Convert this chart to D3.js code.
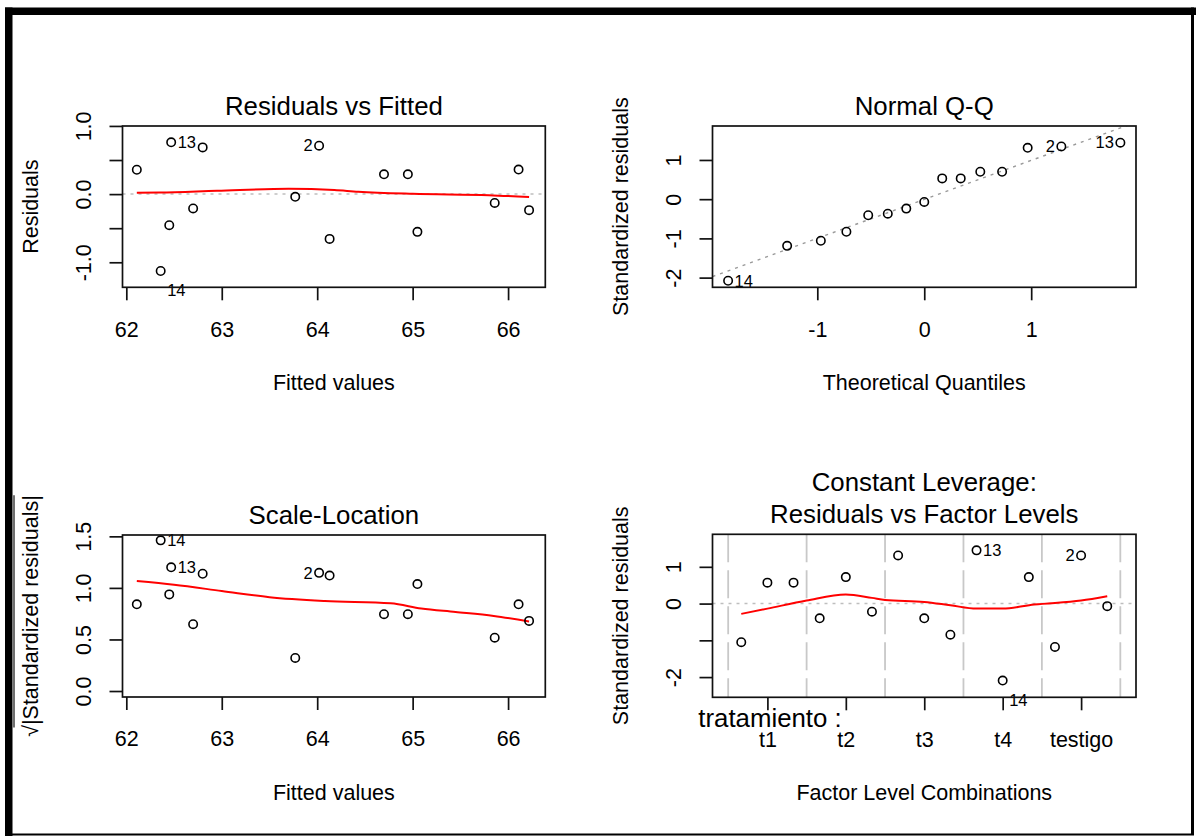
<!DOCTYPE html>
<html>
<head>
<meta charset="utf-8">
<script src="https://cdn.jsdelivr.net/npm/d3@7"></script>
<style>
  body { margin: 0; background: #fff; }
  svg { display: block; }
  text { font-family: "Liberation Sans", Arial, sans-serif; fill: #000; }
</style>
</head>
<body>
<svg id="chart" width="1196" height="836"></svg>
<script>
// ---- data ----
// Residuals vs Fitted / Scale-Location (same fitted values)
const fitted = [62.11, 62.47, 62.80, 62.36, 62.45, 62.70, 63.77, 64.02, 64.13, 64.70, 64.95, 65.05, 65.86, 66.11, 66.22];
const residuals = [0.357, 0.76, 0.685, -1.128, -0.456, -0.21, -0.04, 0.71, -0.657, 0.29, 0.29, -0.554, -0.13, 0.36, -0.235];
const sqrtStdRes = [0.841, 1.20, 1.137, 1.461, 0.937, 0.648, 0.321, 1.146, 1.12, 0.745, 0.745, 1.037, 0.517, 0.841, 0.68];
const idIndex = [1, 3, 7];
const idText = ['13', '14', '2'];
const idSide = ['right', 'right', 'left'];

const residSmoothX = [62.11, 62.35, 62.95, 63.7, 64.18, 64.43, 65.0, 65.8, 66.22];
const residSmoothY = [0.02, 0.024, 0.049, 0.078, 0.059, 0.034, 0.004, -0.015, -0.044];
const scaleSmoothX = [62.11, 62.5, 63.0, 63.5, 64.08, 64.77, 65.09, 65.45, 65.85, 66.22];
const scaleSmoothY = [1.066, 1.03, 0.97, 0.91, 0.873, 0.851, 0.80, 0.767, 0.728, 0.674];

// Normal Q-Q
const theoQ = [-1.834, -1.282, -0.967, -0.728, -0.524, -0.341, -0.168, 0, 0.168, 0.341, 0.524, 0.728, 0.967, 1.282, 1.834];
const stdResSorted = [-2.08, -1.19, -1.06, -0.83, -0.41, -0.37, -0.24, -0.07, 0.53, 0.53, 0.70, 0.70, 1.31, 1.345, 1.44];
const qqIdIndex = [0, 13, 14];
const qqIdText = ['14', '2', '13'];
const qqIdSide = ['right', 'left', 'left'];
const qqLine = { intercept: -0.005, slope: 0.994 };

// Constant leverage: residuals vs factor levels
const levels = ['t1', 't2', 't3', 't4', 'testigo'];
const levelTicks = [1, 4, 7, 10, 13];
const levelBounds = [-0.5, 2.5, 5.5, 8.5, 11.5, 14.5];
const obsPos = [0, 1, 2, 3, 4, 5, 6, 7, 8, 9, 10, 11, 12, 13, 14];
const levelStdRes = [-1.05, 0.57, 0.57, -0.40, 0.72, -0.22, 1.31, -0.40, -0.847, 1.448, -2.095, 0.72, -1.18, 1.31, -0.07];
const lvIdIndex = [9, 10, 13];
const lvIdText = ['13', '14', '2'];
const lvIdSide = ['right', 'right', 'left'];
const lvSmoothX = [0, 1, 2.5, 4, 5, 5.5, 7, 8, 9, 10, 11.2, 13, 14];
const lvSmoothY = [-0.28, -0.137, 0.082, 0.246, 0.155, 0.10, 0.046, -0.046, -0.137, -0.137, -0.027, 0.082, 0.2];

// ---- drawing ----
const svg = d3.select('#chart');
svg.append('rect').attr('width', 1196).attr('height', 836).attr('fill', '#fff');

const FONT = 21.5;
const INK = '#111';

function makePanel(p) {
  const x = d3.scaleLinear().domain(p.xDomain).range([p.left, p.right]);
  const y = d3.scaleLinear().domain(p.yDomain).range([p.bottom, p.top]);
  const g = svg.append('g');

  const xAxis = g.append('g')
    .attr('transform', `translate(0,${p.bottom})`)
    .call(d3.axisBottom(x).tickValues(p.xTicks).tickFormat((d, i) => p.xLabels[i]).tickSize(13).tickSizeOuter(0));
  xAxis.select('.domain').remove();
  xAxis.selectAll('line').attr('stroke', INK).attr('stroke-width', 1.7);
  xAxis.selectAll('text').attr('y', 49.4).attr('dy', null).style('font-size', FONT + 'px');

  const yAxis = g.append('g')
    .attr('transform', `translate(${p.left},0)`)
    .call(d3.axisLeft(y).tickValues(p.yTicks).tickFormat((d, i) => p.yLabels[i]).tickSize(13).tickSizeOuter(0));
  yAxis.select('.domain').remove();
  yAxis.selectAll('line').attr('stroke', INK).attr('stroke-width', 1.7);
  yAxis.selectAll('text')
    .attr('transform', 'rotate(-90)')
    .attr('x', 0).attr('y', -31.5).attr('dy', null)
    .attr('text-anchor', 'middle')
    .style('font-size', FONT + 'px');

  // title (one or two lines)
  const n = p.title.length;
  p.title.forEach((t, i) => {
    g.append('text')
      .attr('x', (p.left + p.right) / 2)
      .attr('y', p.top - 11 - (n - 1 - i) * 32)
      .attr('text-anchor', 'middle')
      .style('font-size', '25.8px')
      .text(t);
  });

  g.append('text')
    .attr('x', (p.left + p.right) / 2)
    .attr('y', p.bottom + 103)
    .attr('text-anchor', 'middle')
    .style('font-size', FONT + 'px')
    .text(p.xTitle);

  const yt = g.append('text')
    .attr('transform', `translate(${p.left - 84.5},${(p.top + p.bottom) / 2}) rotate(-90)`)
    .attr('text-anchor', 'middle')
    .style('font-size', FONT + 'px')
    .text(p.yTitle);

  const clipId = 'clip' + Math.round(p.left) + '_' + Math.round(p.top);
  g.append('clipPath').attr('id', clipId)
    .append('rect')
    .attr('x', p.left).attr('y', p.top)
    .attr('width', p.right - p.left).attr('height', p.bottom - p.top);
  const plot = g.append('g').attr('clip-path', `url(#${clipId})`);

  return { g, plot, x, y, yt, p };
}

function drawBox(P) {
  const p = P.p;
  P.g.append('rect')
    .attr('x', p.left).attr('y', p.top)
    .attr('width', p.right - p.left).attr('height', p.bottom - p.top)
    .attr('fill', 'none').attr('stroke', INK).attr('stroke-width', 1.7);
}

function drawPoints(P, xs, ys) {
  P.g.append('g').selectAll('circle')
    .data(xs)
    .join('circle')
    .attr('cx', d => P.x(d))
    .attr('cy', (d, i) => P.y(ys[i]))
    .attr('r', 4.2)
    .attr('fill', 'none')
    .attr('stroke', '#000')
    .attr('stroke-width', 1.6);
}

function drawSmooth(P, xs, ys) {
  const line = d3.line()
    .x(d => P.x(d[0]))
    .y(d => P.y(d[1]))
    .curve(d3.curveMonotoneX);
  P.plot.append('path')
    .datum(xs.map((v, i) => [v, ys[i]]))
    .attr('fill', 'none')
    .attr('stroke', '#ff0000')
    .attr('stroke-width', 2)
    .attr('d', line);
}

function drawZero(P) {
  P.plot.append('line')
    .attr('x1', P.p.left).attr('x2', P.p.right)
    .attr('y1', P.y(0)).attr('y2', P.y(0))
    .attr('stroke', '#bebebe')
    .attr('stroke-width', 1.5)
    .attr('stroke-dasharray', '3,5');
}

function drawIds(P, xs, ys, idx, texts, sides, shiftNeg) {
  P.g.append('g').selectAll('text')
    .data(idx)
    .join('text')
    .attr('x', (d, i) => P.x(xs[d]) + (sides[i] === 'right' ? 6.5 : -6.5))
    .attr('y', d => P.y(ys[d]) + (shiftNeg && ys[d] < 0 ? 19.5 : 0))
    .attr('dy', '0.35em')
    .attr('text-anchor', (d, i) => sides[i] === 'right' ? 'start' : 'end')
    .style('font-size', '16.5px')
    .text((d, i) => texts[i]);
}

// Panel 1: Residuals vs Fitted
const p1 = makePanel({
  left: 122.5, right: 545.3, top: 126, bottom: 287.3,
  xDomain: [61.96, 66.39], yDomain: [-1.367, 0.999],
  xTicks: [62, 63, 64, 65, 66], xLabels: ['62', '63', '64', '65', '66'],
  yTicks: [-1, -0.5, 0, 0.5, 1], yLabels: ['-1.0', '', '0.0', '', '1.0'],
  title: ['Residuals vs Fitted'], xTitle: 'Fitted values', yTitle: 'Residuals'
});
drawZero(p1);
drawSmooth(p1, residSmoothX, residSmoothY);
drawPoints(p1, fitted, residuals);
drawIds(p1, fitted, residuals, idIndex, idText, idSide, true);
drawBox(p1);

// Panel 2: Normal Q-Q
const p2 = makePanel({
  left: 712.5, right: 1136, top: 126, bottom: 287.3,
  xDomain: [-1.98, 1.98], yDomain: [-2.247, 1.866],
  xTicks: [-1, 0, 1], xLabels: ['-1', '0', '1'],
  yTicks: [-2, -1, 0, 1], yLabels: ['-2', '-1', '0', '1'],
  title: ['Normal Q-Q'], xTitle: 'Theoretical Quantiles', yTitle: 'Standardized residuals'
});
{
  const [x0, x1] = p2.x.domain();
  p2.plot.append('line')
    .attr('x1', p2.x(x0)).attr('y1', p2.y(qqLine.intercept + qqLine.slope * x0))
    .attr('x2', p2.x(x1)).attr('y2', p2.y(qqLine.intercept + qqLine.slope * x1))
    .attr('stroke', '#999')
    .attr('stroke-width', 1.4)
    .attr('stroke-dasharray', '3,5');
}
drawPoints(p2, theoQ, stdResSorted);
drawIds(p2, theoQ, stdResSorted, qqIdIndex, qqIdText, qqIdSide, false);
drawBox(p2);

// Panel 3: Scale-Location
const p3 = makePanel({
  left: 122.5, right: 545.3, top: 535, bottom: 697,
  xDomain: [61.96, 66.39], yDomain: [-0.058, 1.513],
  xTicks: [62, 63, 64, 65, 66], xLabels: ['62', '63', '64', '65', '66'],
  yTicks: [0, 0.5, 1, 1.5], yLabels: ['0.0', '0.5', '1.0', '1.5'],
  title: ['Scale-Location'], xTitle: 'Fitted values', yTitle: '\u221A|Standardized residuals|'
});
drawSmooth(p3, scaleSmoothX, scaleSmoothY);
drawPoints(p3, fitted, sqrtStdRes);
drawIds(p3, fitted, sqrtStdRes, idIndex, idText, idSide, false);
drawBox(p3);
{
  // overline of the square root sign
  const node = p3.yt.node();
  const L = node.getComputedTextLength();
  const w = node.getSubStringLength(0, 1);
  const cy = (p3.p.top + p3.p.bottom) / 2;
  p3.g.append('line')
    .attr('x1', 14).attr('x2', 14)
    .attr('y1', cy + L / 2 - w * 0.8).attr('y2', cy - L / 2)
    .attr('stroke', INK).attr('stroke-width', 1.2);
}

// Panel 4: Constant Leverage
const p4 = makePanel({
  left: 712.5, right: 1136, top: 534.3, bottom: 697.3,
  xDomain: [-1.1, 15.1], yDomain: [-2.55, 1.885],
  xTicks: levelTicks, xLabels: levels,
  yTicks: [-2, -1, 0, 1], yLabels: ['-2', '', '0', '1'],
  title: ['Constant Leverage:', 'Residuals vs Factor Levels'],
  xTitle: 'Factor Level Combinations', yTitle: 'Standardized residuals'
});
p4.plot.append('g').selectAll('line')
  .data(levelBounds)
  .join('line')
  .attr('x1', d => p4.x(d)).attr('x2', d => p4.x(d))
  .attr('y1', p4.p.top).attr('y2', p4.p.bottom)
  .attr('stroke', '#c8c8c8')
  .attr('stroke-width', 1.8)
  .attr('stroke-dasharray', '28,8');
drawZero(p4);
drawSmooth(p4, lvSmoothX, lvSmoothY);
drawPoints(p4, obsPos, levelStdRes);
drawIds(p4, obsPos, levelStdRes, lvIdIndex, lvIdText, lvIdSide, true);
drawBox(p4);
p4.g.append('text')
  .attr('x', 698.3)
  .attr('y', 726.7)
  .style('font-size', '25.8px')
  .text('tratamiento :');

// ---- outer frame ----
const frame = svg.append('g').attr('fill', '#000');
frame.append('rect').attr('x', 5).attr('y', 7.5).attr('width', 1191).attr('height', 7.5);
frame.append('rect').attr('x', 5).attr('y', 7.5).attr('width', 7.5).attr('height', 828.5);
frame.append('rect').attr('x', 1191).attr('y', 7.5).attr('width', 3).attr('height', 827);
frame.append('rect').attr('x', 5).attr('y', 833.5).attr('width', 1189).attr('height', 2);
</script>
</body>
</html>
